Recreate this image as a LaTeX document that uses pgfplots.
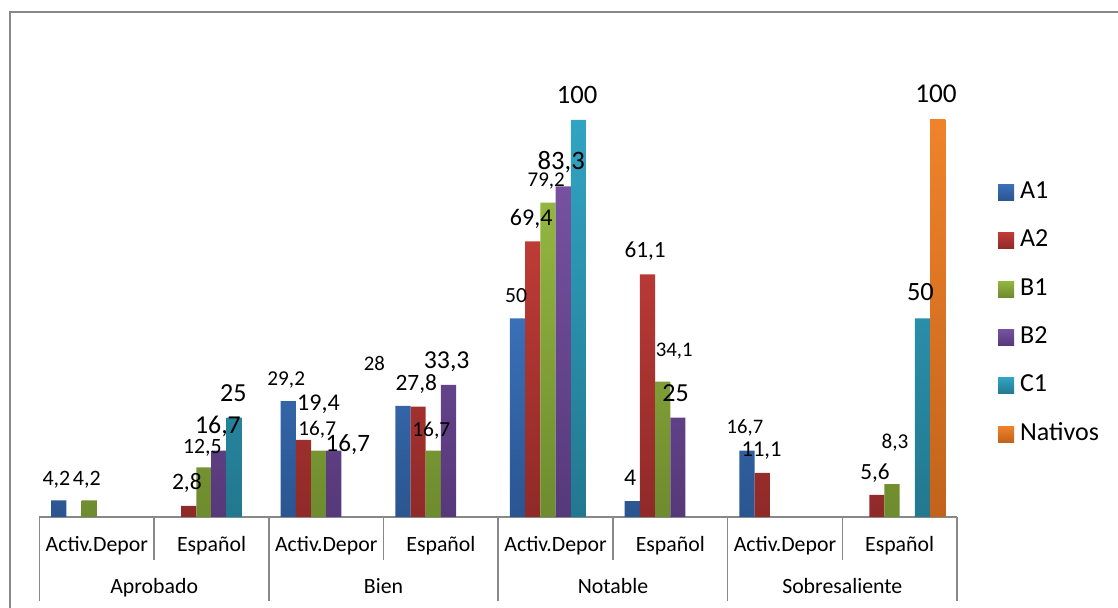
\documentclass[border=0pt]{standalone}
\usepackage{fontspec}
\setmainfont{Carlito}
\usepackage{pgfplots}
\usepackage{pgfplotstable}
\pgfplotsset{compat=1.18}

\definecolor{aonet}{HTML}{3A70B8}\definecolor{aoneb}{HTML}{2A5590}
\definecolor{atwot}{HTML}{BE3B36}\definecolor{atwob}{HTML}{8F2A28}
\definecolor{bonet}{HTML}{93B640}\definecolor{boneb}{HTML}{6E8B2E}
\definecolor{btwot}{HTML}{7651A0}\definecolor{btwob}{HTML}{56397A}
\definecolor{conet}{HTML}{31A4C3}\definecolor{coneb}{HTML}{22788F}
\definecolor{natt}{HTML}{F0832A}\definecolor{natb}{HTML}{C2631C}
\definecolor{linegray}{HTML}{888888}

% x = category (0..7), y = value, dx/dy = label offset (pt), fs = label size (pt)
\pgfplotstableread{
x y dx dy fs lab
0 4.2 -1.2 10.9 11 4,2
2 29.2 -1 11.3 10.6 29,2
3 28 -14.3 21.2 10.4 28
4 50 -0.7 11.5 10.8 50
5 4 -1 11.5 12 4
6 16.7 -1 11.9 10.3 16,7
}\tAone
\pgfplotstableread{
x y dx dy fs lab
1 2.8 -0.9 12.2 11.8 2,8
2 19.4 7.5 18.8 12 19,4
3 27.8 -0.9 12 11.7 27,8
4 69.4 -0.8 12 12 69,4
5 61.1 -1.2 12.2 11.6 61,1
6 11.1 -0.3 12 11.3 11,1
7 5.6 -0.9 11.6 11.6 5,6
}\tAtwo
\pgfplotstableread{
x y dx dy fs lab
0 4.2 -1.2 10.9 11 4,2
1 12.5 -0.8 10.7 10.9 12,5
2 16.7 -0.7 11.1 10.6 16,7
3 16.7 -1 10.9 10.7 16,7
4 79.2 -0.9 11.3 10.5 79,2
5 34.1 5.8 15.8 10.4 34,1
7 8.3 1.5 21.3 10.6 8,3
}\tBone
\pgfplotstableread{
x y dx dy fs lab
1 16.7 -0.6 12.9 12.9 16,7
2 16.7 7 3.6 12.5 16,7
3 33.3 -0.9 12.4 12.9 33,3
4 83.3 -1 12.9 13.3 83,3
5 25 -1.1 12.4 13 25
}\tBtwo
\pgfplotstableread{
x y dx dy fs lab
1 25 -0.5 12.2 13 25
4 100 -0.6 12.8 13.3 100
7 50 -1 13.3 13.2 50
}\tCone
\pgfplotstableread{
x y dx dy fs lab
7 100 -0.8 13.3 13.6 100
}\tNat

\begin{document}
\begin{tikzpicture}
\useasboundingbox (-19.75pt,-45.5pt) rectangle (539.25pt,258.5pt);
\draw[linegray, line width=0.8pt] (-14.75pt,-45.5pt) -- (-14.75pt,252.5pt) -- (539.25pt,252.5pt);

\begin{axis}[
width=458.75pt, height=198.5pt,
scale only axis,
xmin=-0.5, xmax=7.5,
ymin=0, ymax=100,
clip=false,
hide y axis,
axis x line*=bottom,
x axis line style={draw=linegray, line width=0.75pt},
xtick={0,...,7},
xticklabels={Activ.Depor,Español,Activ.Depor,Español,Activ.Depor,Español,Activ.Depor,Español},
major tick length=0pt,
xticklabel style={anchor=base, yshift=-17.5pt, font=\fontsize{10.9}{12}\selectfont},
ybar=0pt, bar width=7.6pt,
point meta=explicit symbolic,
visualization depends on={\thisrow{dx} \as \lbx},
visualization depends on={\thisrow{dy} \as \lby},
visualization depends on={\thisrow{fs} \as \lbf},
nodes near coords={\fontsize{\lbf}{\lbf}\selectfont\pgfplotspointmeta},
every node near coord/.append style={anchor=center, inner sep=0pt, text depth=0pt, xshift=\lbx pt, yshift=\lby pt, text=black},
legend image code/.code={\fill[#1] (0pt,-4pt) rectangle (8pt,4pt);},
legend style={at={(1.0444,0.513)}, anchor=west, draw=none, fill=none, inner sep=0pt,
  font=\fontsize{13}{13}\selectfont, row sep=12.15pt,
  nodes={inner sep=0pt, text height=9pt, text depth=3pt},
  /tikz/every odd column/.append style={column sep=3pt}},
legend cell align=left,
]
\addplot[draw=none, top color=aonet, bottom color=aoneb] table[x=x, y=y, meta=lab] {\tAone};
\addplot[draw=none, top color=atwot, bottom color=atwob] table[x=x, y=y, meta=lab] {\tAtwo};
\addplot[draw=none, top color=bonet, bottom color=boneb] table[x=x, y=y, meta=lab] {\tBone};
\addplot[draw=none, top color=btwot, bottom color=btwob] table[x=x, y=y, meta=lab] {\tBtwo};
\addplot[draw=none, top color=conet, bottom color=coneb] table[x=x, y=y, meta=lab] {\tCone};
\addplot[draw=none, top color=natt, bottom color=natb] table[x=x, y=y, meta=lab] {\tNat};
\legend{A1,A2,B1,B2,C1,Nativos}

% category separators
\draw[linegray, line width=0.75pt] (axis cs:0.5,0) -- ++(0pt,-21.5pt);
\draw[linegray, line width=0.75pt] (axis cs:2.5,0) -- ++(0pt,-21.5pt);
\draw[linegray, line width=0.75pt] (axis cs:4.5,0) -- ++(0pt,-21.5pt);
\draw[linegray, line width=0.75pt] (axis cs:6.5,0) -- ++(0pt,-21.5pt);
\draw[linegray, line width=0.75pt] (axis cs:-0.5,0) -- ++(0pt,-42pt);
\draw[linegray, line width=0.75pt] (axis cs:1.5,0) -- ++(0pt,-42pt);
\draw[linegray, line width=0.75pt] (axis cs:3.5,0) -- ++(0pt,-42pt);
\draw[linegray, line width=0.75pt] (axis cs:5.5,0) -- ++(0pt,-42pt);
\draw[linegray, line width=0.75pt] (axis cs:7.5,0) -- ++(0pt,-42pt);
% outer category names
\node[anchor=base, yshift=-38.2pt, font=\fontsize{10.9}{12}\selectfont] at (axis cs:0.5,0) {Aprobado};
\node[anchor=base, yshift=-38.2pt, font=\fontsize{10.9}{12}\selectfont] at (axis cs:2.5,0) {Bien};
\node[anchor=base, yshift=-38.2pt, font=\fontsize{10.9}{12}\selectfont] at (axis cs:4.5,0) {Notable};
\node[anchor=base, yshift=-38.2pt, font=\fontsize{10.9}{12}\selectfont] at (axis cs:6.5,0) {Sobresaliente};
\end{axis}
\end{tikzpicture}
\end{document}
